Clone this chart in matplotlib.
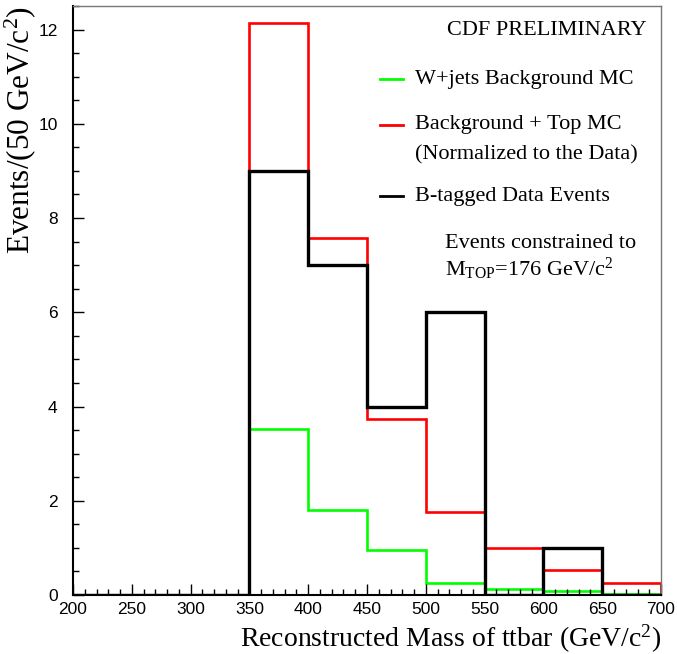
import matplotlib
matplotlib.use("Agg")
import matplotlib.pyplot as plt
from matplotlib.ticker import MultipleLocator

# bin edges in GeV/c^2 (50 GeV bins)
edges = [200, 250, 300, 350, 400, 450, 500, 550, 600, 650, 700]

wjets_mc = [0, 0, 0, 3.52, 1.80, 0.96, 0.25, 0.13, 0.09, 0.02]
bkg_top_mc = [0, 0, 0, 12.14, 7.58, 3.74, 1.76, 1.00, 0.53, 0.25]
btag_data = [0, 0, 0, 9, 7, 4, 6, 0, 1, 0]

serif = "Liberation Serif"
sans = "Liberation Sans"

plt.rcParams["mathtext.fontset"] = "custom"
plt.rcParams["mathtext.rm"] = serif
plt.rcParams["mathtext.it"] = serif + ":italic"

fig = plt.figure(figsize=(6.77, 6.54), dpi=100)
ax = fig.add_axes([0.1078, 0.0902, 0.8686, 0.9006])

ax.stairs(wjets_mc, edges, color="#00ff00", lw=1.9, baseline=0)
ax.stairs(bkg_top_mc, edges, color="#ff0000", lw=1.9, baseline=0)
ax.stairs(btag_data, edges, color="black", lw=2.4, baseline=0)

ax.set_xlim(200, 700)
ax.set_ylim(0, 12.5)
ax.xaxis.set_major_locator(MultipleLocator(50))
ax.xaxis.set_minor_locator(MultipleLocator(10))
ax.yaxis.set_major_locator(MultipleLocator(2))
ax.yaxis.set_minor_locator(MultipleLocator(0.5))
ax.tick_params(which="both", direction="in", top=False, right=False,
               labelsize=12.5)
ax.tick_params(axis="x", pad=5)
ax.tick_params(axis="y", pad=11)
ax.tick_params(which="major", length=8, width=1)
ax.tick_params(which="minor", length=4, width=1)
for lab in ax.get_xticklabels() + ax.get_yticklabels():
    lab.set_fontfamily(sans)

ax.spines["left"].set_linewidth(1.5)
ax.spines["bottom"].set_linewidth(1.5)
ax.spines["top"].set_color("#777777")
ax.spines["right"].set_color("#777777")
ax.spines["top"].set_linewidth(1)
ax.spines["right"].set_linewidth(1)

ax.set_xlabel("Reconstructed Mass of ttbar (GeV/c$^2$)", family=serif,
              fontsize=20, loc="right", labelpad=4)
ax.set_ylabel("Events/(50 GeV/c$^2$)", family=serif, fontsize=22.5,
              loc="top", labelpad=0.5)

# legend drawn by hand, like the original
tfs = 16
tx = 0.582
ax.text(0.975, 0.959, "CDF PRELIMINARY", transform=ax.transAxes,
        family=serif, fontsize=tfs, ha="right", va="center")
legend_rows = [
    ("#00ff00", 0.876, "W+jets Background MC"),
    ("#ff0000", 0.798, "Background + Top MC"),
    ("black", 0.677, "B-tagged Data Events"),
]
for color, yy, label in legend_rows:
    ax.plot([0.522, 0.561], [yy, yy], transform=ax.transAxes, color=color, lw=2)
    ax.text(tx, yy, label, transform=ax.transAxes, family=serif,
            fontsize=tfs, ha="left", va="center")
ax.text(tx, 0.748, "(Normalized to the Data)", transform=ax.transAxes,
        family=serif, fontsize=tfs, ha="left", va="center")
ax.text(0.633, 0.596, "Events constrained to", transform=ax.transAxes,
        family=serif, fontsize=tfs, ha="left", va="center")
ax.text(0.633, 0.553, "M$_{\\rm TOP}$=176 GeV/c$^2$", transform=ax.transAxes,
        family=serif, fontsize=tfs, ha="left", va="center")

fig.savefig("out.png", dpi=100)
